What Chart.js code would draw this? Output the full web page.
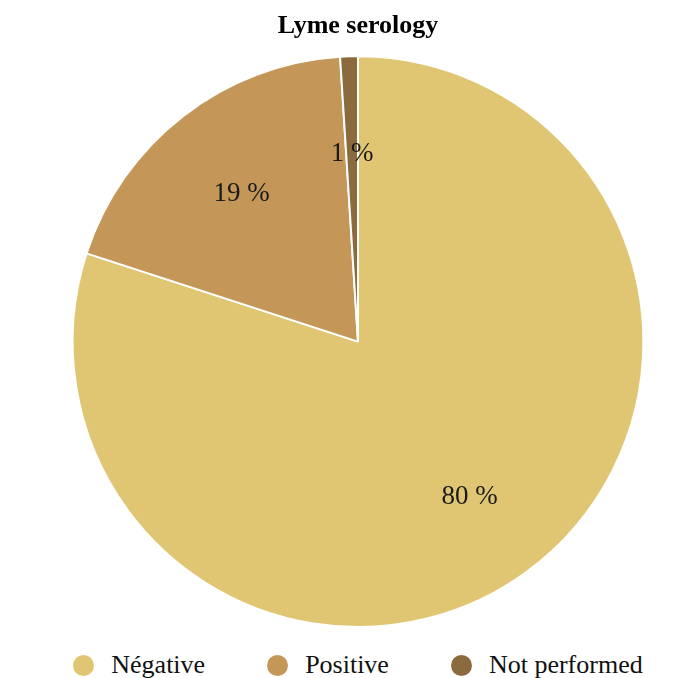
<!DOCTYPE html>
<html>
<head>
<meta charset="utf-8">
<script src="https://cdn.jsdelivr.net/npm/chart.js@4.4.1/dist/chart.umd.min.js"></script>
<style>
  html, body { margin: 0; padding: 0; background: #fff; overflow: hidden; }
  #wrap { position: relative; width: 691px; height: 678px; }
  #box { position: absolute; left: 0; top: 0; width: 691px; height: 640px; }
  #legend {
    position: absolute; left: 25px; right: 0; top: 649px;
    display: flex; justify-content: center; gap: 62px;
    font: 26px "Liberation Serif", serif; color: #111;
  }
  #legend .item { display: flex; align-items: center; gap: 17px; line-height: 32px; }
  #legend .dot { width: 21px; height: 21px; border-radius: 50%; display: inline-block; }
</style>
</head>
<body>
<div id="wrap">
  <div id="box"><canvas id="lymeChart"></canvas></div>
  <div id="legend"></div>
</div>
<script>
// data
const categories = ["Négative", "Positive", "Not performed"];
const percents = [80, 19, 1];
const sliceColors = ["#e0c673", "#c49758", "#8b6a3e"];

// percent labels inside slices
const sliceLabels = {
  id: "sliceLabels",
  afterDatasetsDraw(chart) {
    const ctx = chart.ctx;
    const meta = chart.getDatasetMeta(0);
    ctx.save();
    ctx.font = '27px "Liberation Serif", serif';
    ctx.fillStyle = "#1a1a1a";
    ctx.textAlign = "center";
    ctx.textBaseline = "middle";
    meta.data.forEach((arc, i) => {
      const p = arc.getProps(["x", "y", "startAngle", "endAngle", "outerRadius"], true);
      const mid = (p.startAngle + p.endAngle) / 2;
      const r = p.outerRadius * 0.665;
      ctx.fillText(percents[i] + " %", p.x + Math.cos(mid) * r, p.y + Math.sin(mid) * r + 2);
    });
    ctx.restore();
  },
};

const ctx = document.getElementById("lymeChart").getContext("2d");
const chart = new Chart(ctx, {
  type: "pie",
  data: {
    labels: categories,
    datasets: [
      {
        data: percents,
        backgroundColor: sliceColors,
        borderColor: "#ffffff",
        borderWidth: 2,
      },
    ],
  },
  options: {
    responsive: true,
    maintainAspectRatio: false,
    animation: false,
    layout: { padding: { left: 25, right: 0, top: 0, bottom: 12 } },
    plugins: {
      legend: { display: false },
      tooltip: { enabled: false },
      title: {
        display: true,
        text: "Lyme serology",
        color: "#000",
        font: { family: '"Liberation Serif", serif', size: 26, weight: "bold" },
        padding: { top: 11, bottom: 13 },
      },
    },
  },
  plugins: [sliceLabels],
});

// html legend from the chart's own legend items
const legendEl = document.getElementById("legend");
chart.options.plugins.legend.labels.generateLabels(chart).forEach((item) => {
  const el = document.createElement("div");
  el.className = "item";
  const dot = document.createElement("span");
  dot.className = "dot";
  dot.style.background = item.fillStyle;
  el.appendChild(dot);
  el.appendChild(document.createTextNode(item.text));
  legendEl.appendChild(el);
});
</script>
</body>
</html>
